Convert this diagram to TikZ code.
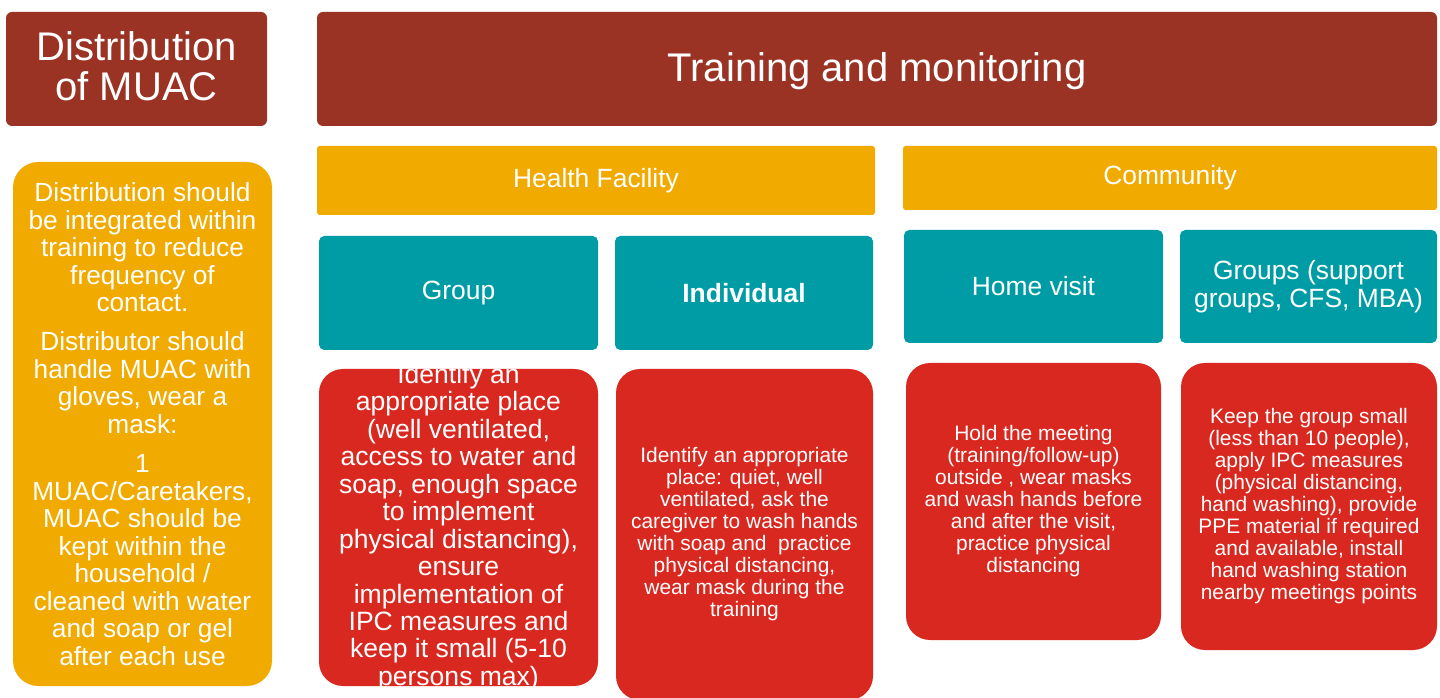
\documentclass[tikz,border=0pt]{standalone}
\usepackage{fontspec}
\setmainfont{Liberation Sans}
\usetikzlibrary{positioning}

\definecolor{headred}{HTML}{9A3324}
\definecolor{amber}{HTML}{F0AA00}
\definecolor{teal}{HTML}{009CA6}
\definecolor{alarm}{HTML}{D9281F}

\tikzset{
  box/.style={inner sep=0pt, text=white, align=center},
  head/.style={box, fill=headred, rounded corners=4.5pt},
  headtxt/.style={box, font=\fontsize{30pt}{30pt}\selectfont},
  place/.style={box, fill=amber, rounded corners=2pt,
    font=\fontsize{19.8pt}{22pt}\selectfont},
  mode/.style={box, fill=teal, rounded corners=4pt,
    font=\fontsize{19.8pt}{21pt}\selectfont},
  rule/.style={box, fill=alarm, rounded corners=18pt},
  small/.style={font=\fontsize{15.7pt}{16.5pt}\selectfont}
}

\begin{document}
\begin{tikzpicture}[x=0.75pt, y=-0.75pt]
\useasboundingbox (0,0) rectangle (1440,698);

% headers
\node[head, minimum width=195.75pt, minimum height=85.5pt] (muac) at (136.5,69) {};
\node[headtxt] (muactxt) at (136.5,66) {Distribution\\of MUAC};
\node[head, minimum width=840pt, minimum height=85.5pt] (training) at (877,69) {};
\node[headtxt] (trainingtxt) at (877,71) {Training and monitoring};

% MUAC column
\node[box, fill=amber, rounded corners=19pt, minimum width=194.25pt, minimum height=393pt,
  font=\fontsize{19.7pt}{20.6pt}\selectfont] (muacnote) at (142.5,424)
  {Distribution should\\be integrated within\\training to reduce\\frequency of\\contact.\\[9pt]
   Distributor should\\handle MUAC with\\gloves, wear a\\mask:\\[9pt]
   1\\MUAC/Caretakers,\\MUAC should be\\kept within the\\household /\\cleaned with water\\and soap or gel\\after each use};

% places
\node[place, minimum width=418.5pt, minimum height=51.75pt] (facility) at (596,180.5) {Health Facility};
\node[place, minimum width=400.5pt, minimum height=48pt] (community) at (1170,178) {Community};

% modes
\node[mode, minimum width=209.25pt, minimum height=85.5pt] (fgroup) at (458.5,293) {Group};
\node[mode, minimum width=193.5pt, minimum height=85.5pt] (findiv) at (744,293) {\bfseries Individual};
\node[mode, minimum width=194.25pt, minimum height=84.75pt] (chome) at (1033.5,286.5) {Home visit};
\node[mode, minimum width=192.75pt, minimum height=84.75pt] (cgroups) at (1308.5,286.5)
  {Groups (support\\groups, CFS, MBA)};

% measures
\node[rule, minimum width=209.25pt, minimum height=237.75pt] (fgroupbox) at (458.5,527.5) {};
\node[box, font=\fontsize{19.9pt}{20.6pt}\selectfont] (fgrouptxt) at (fgroupbox.center)
  {Identify an\\appropriate place\\(well ventilated,\\access to water and\\soap, enough space\\
   to implement\\physical distancing),\\ensure\\implementation of\\IPC measures and\\
   keep it small (5-10\\persons max)};
\node[rule, small, minimum width=192.75pt, minimum height=248.25pt] (findivbox) at (744.5,534.5)
  {Identify an appropriate\\place: quiet, well\\ventilated, ask the\\caregiver to wash hands\\
   with soap and\ \ practice\\physical distancing,\\wear mask during the\\training};
\node[rule, small, minimum width=191.25pt, minimum height=207.75pt] (chomebox) at (1033.5,501.5)
  {Hold the meeting\\(training/follow-up)\\outside , wear masks\\and wash hands before\\
   and after the visit,\\practice physical\\distancing};
\node[rule, small, minimum width=192pt, minimum height=215.25pt] (cgroupsbox) at (1309,506.5)
  {Keep the group small\\(less than 10 people),\\apply IPC measures\\(physical distancing,\\
   hand washing), provide\\PPE material if required\\and available, install\\
   hand washing station\\nearby meetings points};
\end{tikzpicture}
\end{document}
